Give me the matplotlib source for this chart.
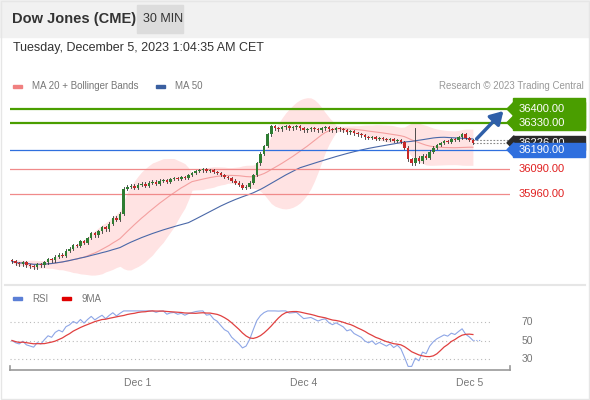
import numpy as np
import pandas as pd
import matplotlib
matplotlib.use("Agg")
import matplotlib.pyplot as plt
from matplotlib.patches import Rectangle, FancyArrowPatch

plt.rcParams['font.family'] = ['Liberation Sans', 'DejaVu Sans']

closes = [35615,35605,35600,35610,35595,35590,35585,35600,35595,
          35610,35625,35620,35640,35650,35645,35670,35680,35700,35695,
          35720,35710,35735,35760,35750,35770,35790,35780,35810,35840,
          35830,35860,35990,36000,
          36005,35995,36010,36015,36005,36020,36025,36015,36030,36035,36025,36040,36045,
          36040,36050,36045,36060,36070,36080,36085,
          36090,36080,36085,36075,36070,
          36060,36050,36045,36030,36020,36010,35995,36000,
          36020,36060,36120,
          36170,36210,36270,36310,
          36300,36295,36305,36310,36300,36305,36310,36300,
          36290,36295,36300,36295,36290,36300,36305,36295,36290,36300,36295,36290,
          36280,36285,36275,36270,36265,36255,36250,36255,36245,
          36250,36245,36240,36245,36235,36240,36230,
          36200,36140,36120,36150,
          36130,36160,36150,36180,36200,
          36215,36225,36235,36230,36245,36240,36255,36270,36250,36240,36226]
first_open = 35620
wick = 7
spike_highs = {112: 36300, 111: 36130}
tick_pos = [35, 81, 127]
tick_labels = ["Dec 1", "Dec 4", "Dec 5"]
levels_green = [36400, 36330]
level_blue = 36190
levels_red = [36090, 35960]
last_price = 36226

c = np.array(closes, float)
o = np.concatenate([[first_open], c[:-1]])
n = len(c)
idx = np.arange(n)
s = pd.Series(c)
ma20 = s.rolling(20, min_periods=1).mean()
sd20 = s.rolling(20, min_periods=2).std().fillna(0)
ma50 = s.rolling(50, min_periods=1).mean()
d = s.diff().fillna(0)
seed = 8.0
up = pd.concat([pd.Series([seed]), d.clip(lower=0)]).ewm(alpha=1/14, adjust=False).mean().iloc[1:].reset_index(drop=True)
dn = pd.concat([pd.Series([seed]), -d.clip(upper=0)]).ewm(alpha=1/14, adjust=False).mean().iloc[1:].reset_index(drop=True)
rsi = 100 - 100 / (1 + up / dn.replace(0, 1e-9))
rsi = rsi.clip(22, 82)
rsi_ma = rsi.rolling(9, min_periods=1).mean()

fig = plt.figure(figsize=(5.9, 4.0), dpi=100)
W, H = 590, 400
def fx(x): return x / W
def fy(y): return 1 - y / H

fig.patches.append(Rectangle((0, fy(37)), 1, 37 / H, transform=fig.transFigure, color='#f1f1f1', zorder=0))
fig.patches.append(Rectangle((fx(137), fy(33)), 46 / W, 28 / H, transform=fig.transFigure, color='#dcdcdc', zorder=1))
fig.text(fx(12), fy(19), "Dow Jones (CME)", fontsize=10.5, weight='bold', color='#333333', va='center')
fig.text(fx(143), fy(19), "30 MIN", fontsize=9, color='#333333', va='center')
fig.text(fx(13), fy(48), "Tuesday, December 5, 2023 1:04:35 AM CET", fontsize=9, color='#333333', va='center')
fig.patches.append(Rectangle((fx(13), fy(88)), 9 / W, 3 / H, transform=fig.transFigure, color='#f08080'))
fig.text(fx(32), fy(86), "MA 20 + Bollinger Bands", fontsize=7, color='#777777', va='center')
fig.patches.append(Rectangle((fx(156), fy(88)), 9 / W, 3 / H, transform=fig.transFigure, color='#3a5fa0'))
fig.text(fx(175), fy(86), "MA 50", fontsize=7, color='#777777', va='center')
fig.text(fx(584), fy(86), "Research \u00a9 2023 Trading Central", fontsize=7, color='#999999', va='center', ha='right')
fig.lines.append(plt.Line2D([fx(5), fx(585)], [fy(285), fy(285)], transform=fig.transFigure, color='#e6e6e6', lw=1.5))

def px_to_price(y): return 36400 - (y - 109) * 5.15
ax = fig.add_axes([fx(10), fy(280), 500 / W, 185 / H])
ax.set_xlim(-0.56, 138.3)
ax.set_ylim(px_to_price(280), px_to_price(95))
ax.axis('off')

ax.fill_between(idx, ma20 - 2 * sd20, ma20 + 2 * sd20, color='#ffdcdc', alpha=0.8, lw=0, zorder=1)
ax.plot(idx, ma20, color='#f4a0a0', lw=0.8, zorder=2)
ax.plot(idx, ma50, color='#4a68a8', lw=0.8, zorder=2)

for lv in levels_green:
    ax.axhline(lv, color='#4a9e00', lw=1.6, zorder=3)
ax.axhline(level_blue, color='#2f6fde', lw=0.9, zorder=3)
for lv in levels_red:
    ax.axhline(lv, color='#f08a8a', lw=0.9, zorder=3)

for i in range(n):
    hi = max(o[i], c[i]) + wick
    lo = min(o[i], c[i]) - wick
    if i in spike_highs and spike_highs[i] > hi:
        hi = spike_highs[i]
    col = '#2e7d32' if c[i] >= o[i] else '#c62828'
    ax.plot([i, i], [lo, hi], color='#333333', lw=0.6, zorder=4)
    ax.add_patch(Rectangle((i - 0.35, min(o[i], c[i])), 0.7, max(abs(c[i] - o[i]), 2), color=col, zorder=5, lw=0))

ax.plot([n - 1, 138.3], [last_price, last_price], color='#888888', lw=0.8, ls=(0, (1.5, 1.5)), zorder=3)
ax.plot([n - 1, 138.3], [last_price + 12, last_price + 12], color='#888888', lw=0.8, ls=(0, (1.5, 1.5)), zorder=3)
ax.add_patch(FancyArrowPatch((n - 0.5, last_price + 10), (137, 36400), arrowstyle='-|>,head_width=3,head_length=5',
                             color='#2f5fa8', lw=2.5, zorder=6, mutation_scale=1.5))

def label(price, text, fc, tc, z=5):
    y = 109 + (36400 - price) / 5.15
    if fc:
        fig.patches.append(Rectangle((fx(513), fy(y + 7)), 72 / W, 14 / H, transform=fig.transFigure, color=fc, zorder=z))
        fig.patches.append(plt.Polygon([[fx(507), fy(y)], [fx(514), fy(y - 7)], [fx(514), fy(y + 7)]], closed=True,
                                       transform=fig.transFigure, color=fc, zorder=z))
    fig.text(fx(519), fy(y), text, fontsize=8, color=tc, va='center', zorder=z + 1)

label(last_price, "36226.00", '#2a2a2a', '#ffffff', z=5)
fig.patches.append(Rectangle((fx(513), fy(128)), 72 / W, 30 / H, transform=fig.transFigure, color='#4a9e00', zorder=5))
label(36400, "36400.00", '#4a9e00', '#ffffff')
label(36330, "36330.00", '#4a9e00', '#ffffff')
label(level_blue, "36190.00", '#2f6fde', '#ffffff', z=8)
label(36090, "36090.00", None, '#e02020')
label(35960, "35960.00", None, '#e02020')

fig.patches.append(Rectangle((fx(13), fy(300)), 9 / W, 3 / H, transform=fig.transFigure, color='#5b7fd6'))
fig.text(fx(32), fy(299), "RSI", fontsize=7, color='#777777', va='center')
fig.patches.append(Rectangle((fx(62), fy(300)), 9 / W, 3 / H, transform=fig.transFigure, color='#e00000'))
fig.text(fx(81), fy(299), "9MA", fontsize=7, color='#777777', va='center')

ax2 = fig.add_axes([fx(10), fy(370), 500 / W, 65 / H])
ax2.set_xlim(-0.56, 138.3)
ax2.set_ylim(18.1, 88.4)
for sp in ['top', 'right', 'left']:
    ax2.spines[sp].set_visible(False)
ax2.spines['bottom'].set_color('#999999')
ax2.spines['bottom'].set_linewidth(1.2)
ax2.set_yticks([])
for lv in [30, 50, 70]:
    ax2.plot([-0.56, 133], [lv, lv], color='#bbbbbb', lw=0.8, ls=(0, (1, 2.5)))
    ax2.text(141.5, lv, str(lv), fontsize=7.5, color='#777777', va='center', clip_on=False)
ax2.plot(idx, rsi, color='#8ea6e6', lw=0.8)
ax2.plot(idx, rsi_ma, color='#e04040', lw=0.9)
ax2.plot([n - 1, 130], [rsi.iloc[-1]] * 2, color='#8ea6e6', lw=0.8, ls=(0, (1, 1.5)))
ax2.set_xticks(tick_pos)
ax2.set_xticklabels(tick_labels, fontsize=7.5, color='#777777')
ax2.tick_params(axis='x', length=0, pad=6)
ax2.plot([-0.56, -0.56], [18.1, 22], color='#999999', lw=1.2, clip_on=False)
ax2.plot([138.2, 138.2], [18.1, 22], color='#999999', lw=1.2, clip_on=False)

fig.patches.append(Rectangle((0.002, 0.002), 0.996, 0.996, transform=fig.transFigure, fill=False, ec='#e6e6e6', lw=1))
fig.savefig("out.png", dpi=100)
